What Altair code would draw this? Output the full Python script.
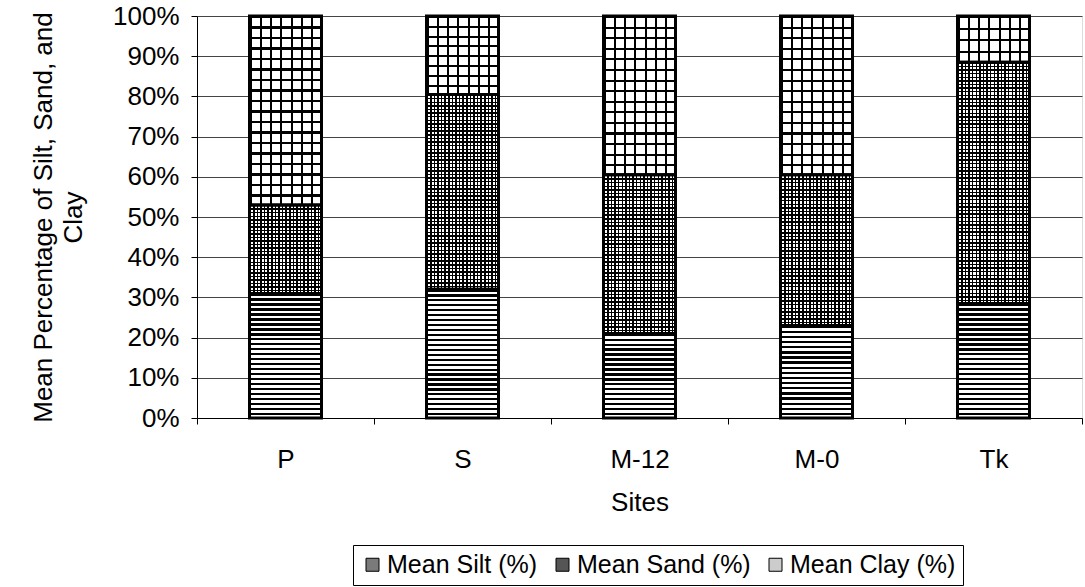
import altair as alt
import pandas as pd

# Mean particle-size fractions per site (percent of sample)
sites = ["P", "S", "M-12", "M-0", "Tk"]
parts = ["Mean Silt (%)", "Mean Sand (%)", "Mean Clay (%)"]
silt = [31.0, 32.0, 21.0, 23.0, 28.5]
sand = [22.0, 48.5, 39.5, 37.5, 60.0]
clay = [47.0, 19.5, 39.5, 39.5, 11.5]
y_ticks = [0.0, 0.1, 0.2, 0.3, 0.4, 0.5, 0.6, 0.7, 0.8, 0.9, 1.0]

series = [silt, sand, clay]
rows = []
for i, site in enumerate(sites):
    for k, name in enumerate(parts):
        rows.append({"site": site, "part": name, "order": k, "value": series[k][i]})
df = pd.DataFrame(rows)

W, H = 885, 402
BAR = 72
FONT = "Liberation Sans"
FS = 26


def stripes(count, frac, ink, paper, across):
    """Hard-edged linear gradient: `count` bands of ink followed by paper."""
    stops = []
    for i in range(count):
        a = round(i / count, 5)
        m = round((i + frac) / count, 5)
        b = round((i + 1) / count, 5)
        stops += [
            {"offset": a, "color": ink},
            {"offset": m, "color": ink},
            {"offset": m, "color": paper},
            {"offset": b, "color": paper},
        ]
    if across:
        pos = {"x1": 0, "y1": 0, "x2": 1, "y2": 0}
    else:
        pos = {"x1": 0, "y1": 0, "x2": 0, "y2": 1}
    return {"gradient": "linear", "stops": stops, **pos}


CLEAR = "rgba(0,0,0,0)"

x_enc = alt.X(
    "site:N",
    sort=sites,
    title="Sites",
    scale=alt.Scale(paddingInner=0, paddingOuter=0),
    axis=alt.Axis(
        labelAngle=0, labelFontSize=FS, labelPadding=22, labelColor="black",
        tickSize=6, tickBand="extent", tickColor="black", domainColor="black",
        titleFontSize=FS, titleFontWeight="normal", titleColor="black",
        titlePadding=17, grid=False,
    ),
)
y_enc = alt.Y(
    "y0:Q",
    title=["Mean Percentage of Silt, Sand, and", "Clay"],
    scale=alt.Scale(domain=[0, 1], nice=False),
    axis=alt.Axis(
        values=y_ticks, format=".0%", labelFontSize=FS, labelColor="black",
        labelPadding=12, tickSize=6, tickColor="black", domainColor="black",
        grid=True, gridColor="#444444", gridWidth=1,
        titleFontSize=FS, titleFontWeight="normal", titleColor="black",
        titlePadding=26, titleLineHeight=30,
    ),
)
y2_enc = alt.Y2("y1:Q")

base = alt.Chart(df).transform_stack(
    stack="value",
    groupby=["site"],
    as_=["y0", "y1"],
    offset="normalize",
    sort=[alt.SortField("order", order="ascending")],
)

layers = []

# underlying fill (also drives the legend)
layers.append(
    base.mark_bar(size=BAR).encode(
        x=x_enc, y=y_enc, y2=y2_enc,
        color=alt.Color(
            "part:N",
            sort=parts,
            scale=alt.Scale(domain=parts, range=["#7a7a7a", "#555555", "#cccccc"]),
            legend=alt.Legend(
                orient="none", legendX=156, legendY=529, direction="horizontal",
                columns=3, title=None, symbolType="square", symbolSize=169,
                symbolStrokeColor="black", symbolStrokeWidth=1,
                labelFontSize=25, labelColor="black", labelFont=FONT,
                labelLimit=400, columnPadding=12, symbolOffset=0, labelOffset=2,
                strokeColor="black", padding=7, fillColor="white",
            ),
        ),
    )
)

# vertical threads of the sand stipple and the clay grid
layers.append(
    base.transform_filter(alt.datum.part == parts[1]).mark_bar(size=BAR).encode(
        x=x_enc, y=y_enc, y2=y2_enc,
        fill=alt.value(stripes(20, 0.4, "black", "white", True)),
    )
)
layers.append(
    base.transform_filter(alt.datum.part == parts[2]).mark_bar(size=BAR).encode(
        x=x_enc, y=y_enc, y2=y2_enc,
        fill=alt.value(stripes(7, 0.2, "black", "white", True)),
    )
)

# horizontal threads, sized to each segment
hatch = {
    parts[0]: (5.0, 0.45, "white"),
    parts[1]: (3.6, 0.4, CLEAR),
    parts[2]: (10.3, 0.2, CLEAR),
}
for i, site in enumerate(sites):
    for k, name in enumerate(parts):
        period, frac, paper = hatch[name]
        h = series[k][i] / 100.0 * H
        n = max(1, round(h / period))
        layers.append(
            base.transform_filter(
                (alt.datum.site == site) & (alt.datum.part == name)
            ).mark_bar(size=BAR).encode(
                x=x_enc, y=y_enc, y2=y2_enc,
                fill=alt.value(stripes(n, frac, "black", paper, False)),
            )
        )

# segment outlines
layers.append(
    base.mark_bar(size=BAR, fillOpacity=0, stroke="black", strokeWidth=3).encode(
        x=x_enc, y=y_enc, y2=y2_enc,
    )
)

chart = alt.layer(*layers).properties(
    width=W,
    height=H,
    padding={"left": 197, "top": 16, "right": 3, "bottom": 169},
    autosize=alt.AutoSizeParams(type="none"),
    background="white",
).configure_view(stroke=None).configure(font=FONT)

chart.save("out.html", embed_options={"renderer": "svg", "actions": False})
